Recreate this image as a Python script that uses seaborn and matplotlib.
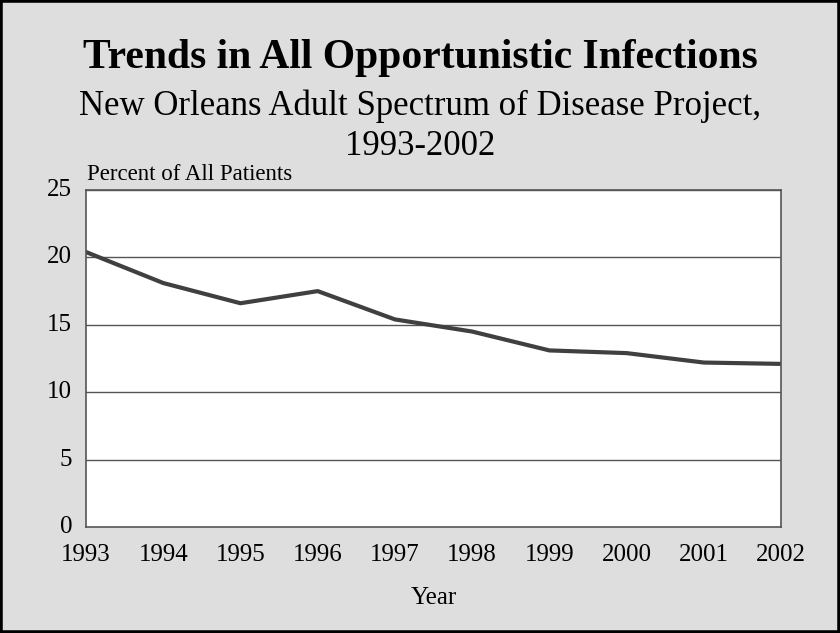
import matplotlib
matplotlib.use("Agg")
import matplotlib.pyplot as plt
import seaborn as sns
import pandas as pd
from matplotlib.patches import Rectangle

years = [1993, 1994, 1995, 1996, 1997, 1998, 1999, 2000, 2001, 2002]
percent = [20.4, 18.1, 16.6, 17.5, 15.4, 14.5, 13.1, 12.9, 12.2, 12.1]
yticks = [0, 5, 10, 15, 20, 25]

df = pd.DataFrame({"Year": years, "Percent": percent})

sns.set_style("white")
plt.rcParams['font.family'] = ['Liberation Serif', 'DejaVu Serif']
plt.rcParams['text.color'] = 'black'
plt.rcParams['axes.labelcolor'] = 'black'

bg = "#dedede"
fig = plt.figure(figsize=(8.4, 6.33), dpi=100, facecolor=bg)
ax = fig.add_axes([0.1024, 0.1675, 0.8274, 0.5323])
ax.set_facecolor("white")

sns.lineplot(data=df, x="Year", y="Percent", ax=ax, color="#404040", linewidth=3)

ax.set_xlim(years[0], years[-1])
ax.set_ylim(0, 25)
ax.set_xticks(years)
ax.set_yticks(yticks)
ax.tick_params(axis="both", labelsize=18, length=0, colors="black")
ax.tick_params(axis="x", pad=12.5)
ax.tick_params(axis="y", pad=10)
for lab in ax.get_yticklabels():
    lab.set_verticalalignment("center")
for y in yticks[1:]:
    ax.axhline(y, color="#555555", linewidth=1, zorder=1)
for s in ax.spines.values():
    s.set_color("#555555")
    s.set_linewidth(1.2)
ax.set_xlabel("Year", fontsize=18, labelpad=15)
ax.set_ylabel("")

fig.text(0.5, 0.8926, "Trends in All Opportunistic Infections",
         ha="center", va="baseline", fontsize=30, fontweight="bold")
fig.text(0.5, 0.8183, "New Orleans Adult Spectrum of Disease Project,",
         ha="center", va="baseline", fontsize=25)
fig.text(0.5, 0.7551, "1993-2002", ha="center", va="baseline", fontsize=25)
fig.text(0.1036, 0.7156, "Percent of All Patients", ha="left", va="baseline",
         fontsize=16.5)

fig.patches.append(Rectangle((0, 0), 1, 1, transform=fig.transFigure,
                             fill=False, edgecolor="black", linewidth=4))

fig.savefig("out.png", dpi=100, facecolor=bg)
